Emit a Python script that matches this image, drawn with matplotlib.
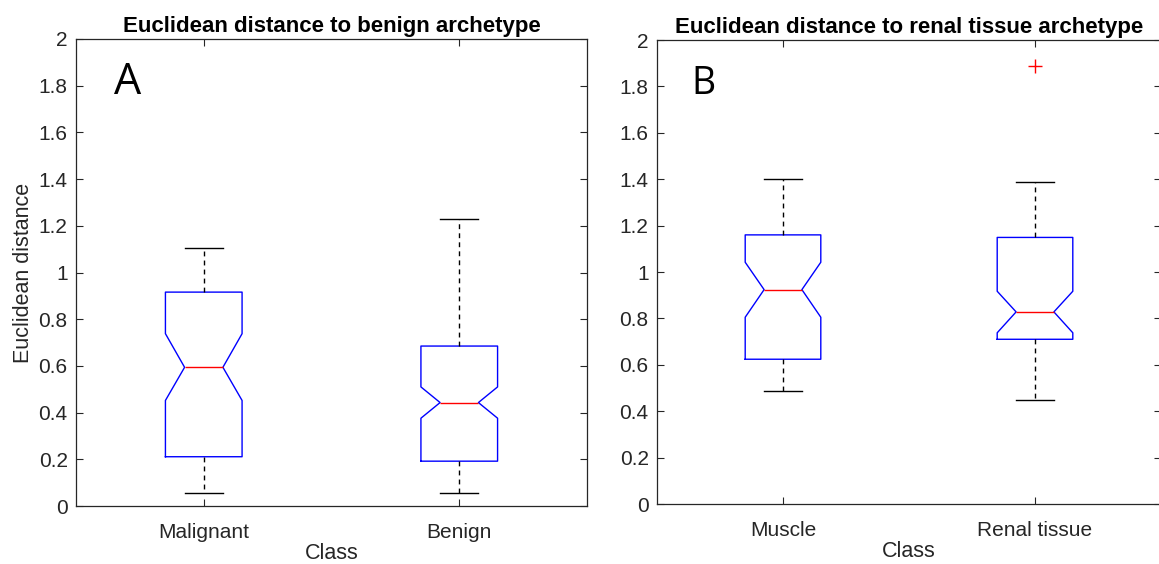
import matplotlib
matplotlib.use("Agg")
import matplotlib.pyplot as plt
from matplotlib.ticker import FuncFormatter

plt.rcParams['font.family'] = ['Liberation Sans', 'DejaVu Sans']

# ---- data ----
classes_a = ["Malignant", "Benign"]
med_a = [0.594, 0.443]
q1_a = [0.211, 0.192]
q3_a = [0.916, 0.685]
wlo_a = [0.056, 0.057]
whi_a = [1.105, 1.228]
cilo_a = [0.452, 0.376]
cihi_a = [0.738, 0.510]
fliers_a = [[], []]

classes_b = ["Muscle", "Renal tissue"]
med_b = [0.924, 0.828]
q1_b = [0.624, 0.710]
q3_b = [1.160, 1.149]
wlo_b = [0.488, 0.447]
whi_b = [1.401, 1.389]
cilo_b = [0.805, 0.738]
cihi_b = [1.042, 0.917]
fliers_b = [[], [1.888]]

titles = ["Euclidean distance to benign archetype",
          "Euclidean distance to renal tissue archetype"]
panel_letters = ["A", "B"]
y_ticks = [0, 0.2, 0.4, 0.6, 0.8, 1.0, 1.2, 1.4, 1.6, 1.8, 2.0]

W, H = 1159, 564
fig = plt.figure(figsize=(W / 100, H / 100), dpi=100)

axcol = (0.15, 0.15, 0.15)

def make_stats(classes, med, q1, q3, wlo, whi, cilo, cihi, fliers):
    out = []
    for i, c in enumerate(classes):
        out.append(dict(label=c, med=med[i], q1=q1[i], q3=q3[i],
                        whislo=wlo[i], whishi=whi[i], cilo=cilo[i],
                        cihi=cihi[i], fliers=fliers[i]))
    return out

stats_all = [
    make_stats(classes_a, med_a, q1_a, q3_a, wlo_a, whi_a, cilo_a, cihi_a, fliers_a),
    make_stats(classes_b, med_b, q1_b, q3_b, wlo_b, whi_b, cilo_b, cihi_b, fliers_b),
]

rects = [
    [76 / W, 1 - 506 / H, 511 / W, 467 / H],
    [657 / W, 1 - 504 / H, 504 / W, 464 / H],
]
letter_pos = [(114, 94), (691, 94)]
letter_size = [31, 27]

for k in range(2):
    ax = fig.add_axes(rects[k])
    ax.bxp(stats_all[k], positions=[1, 2], widths=0.3, shownotches=True,
           showfliers=True,
           boxprops=dict(color='blue', linewidth=1.0),
           medianprops=dict(color='red', linewidth=1.0),
           whiskerprops=dict(color='black', linewidth=1.0, linestyle=(0, (3.5, 3))),
           capprops=dict(color='black', linewidth=1.0),
           flierprops=dict(marker='+', markeredgecolor='red', markersize=10,
                           markeredgewidth=1.0, linestyle='none'))
    ax.set_xlim(0.5, 2.5)
    ax.set_ylim(0, 2)
    ax.set_yticks(y_ticks)
    ax.yaxis.set_major_formatter(FuncFormatter(lambda v, p: f"{v:g}"))
    ax.set_xticks([1, 2])
    ax.set_xticklabels([s['label'] for s in stats_all[k]])
    ax.tick_params(direction='in', length=5, width=0.8, colors=axcol,
                   labelsize=15, top=True, right=True, pad=6)
    ax.tick_params(axis='x', pad=12)
    for sp in ax.spines.values():
        sp.set_color(axcol)
        sp.set_linewidth(0.9)
    ax.set_xlabel("Class", fontsize=15.5, color=axcol, labelpad=1)
    if k == 0:
        ax.set_ylabel("Euclidean distance", fontsize=15.5, color=axcol, labelpad=3)
    ax.set_title(titles[k], fontsize=16, fontweight='bold', color='black', pad=5)
    lx, ly = letter_pos[k]
    fig.text(lx / W, 1 - ly / H, panel_letters[k], fontsize=letter_size[k],
             family=['Open Sans', 'DejaVu Sans'], color='black')

fig.savefig("out.png", dpi=100)
